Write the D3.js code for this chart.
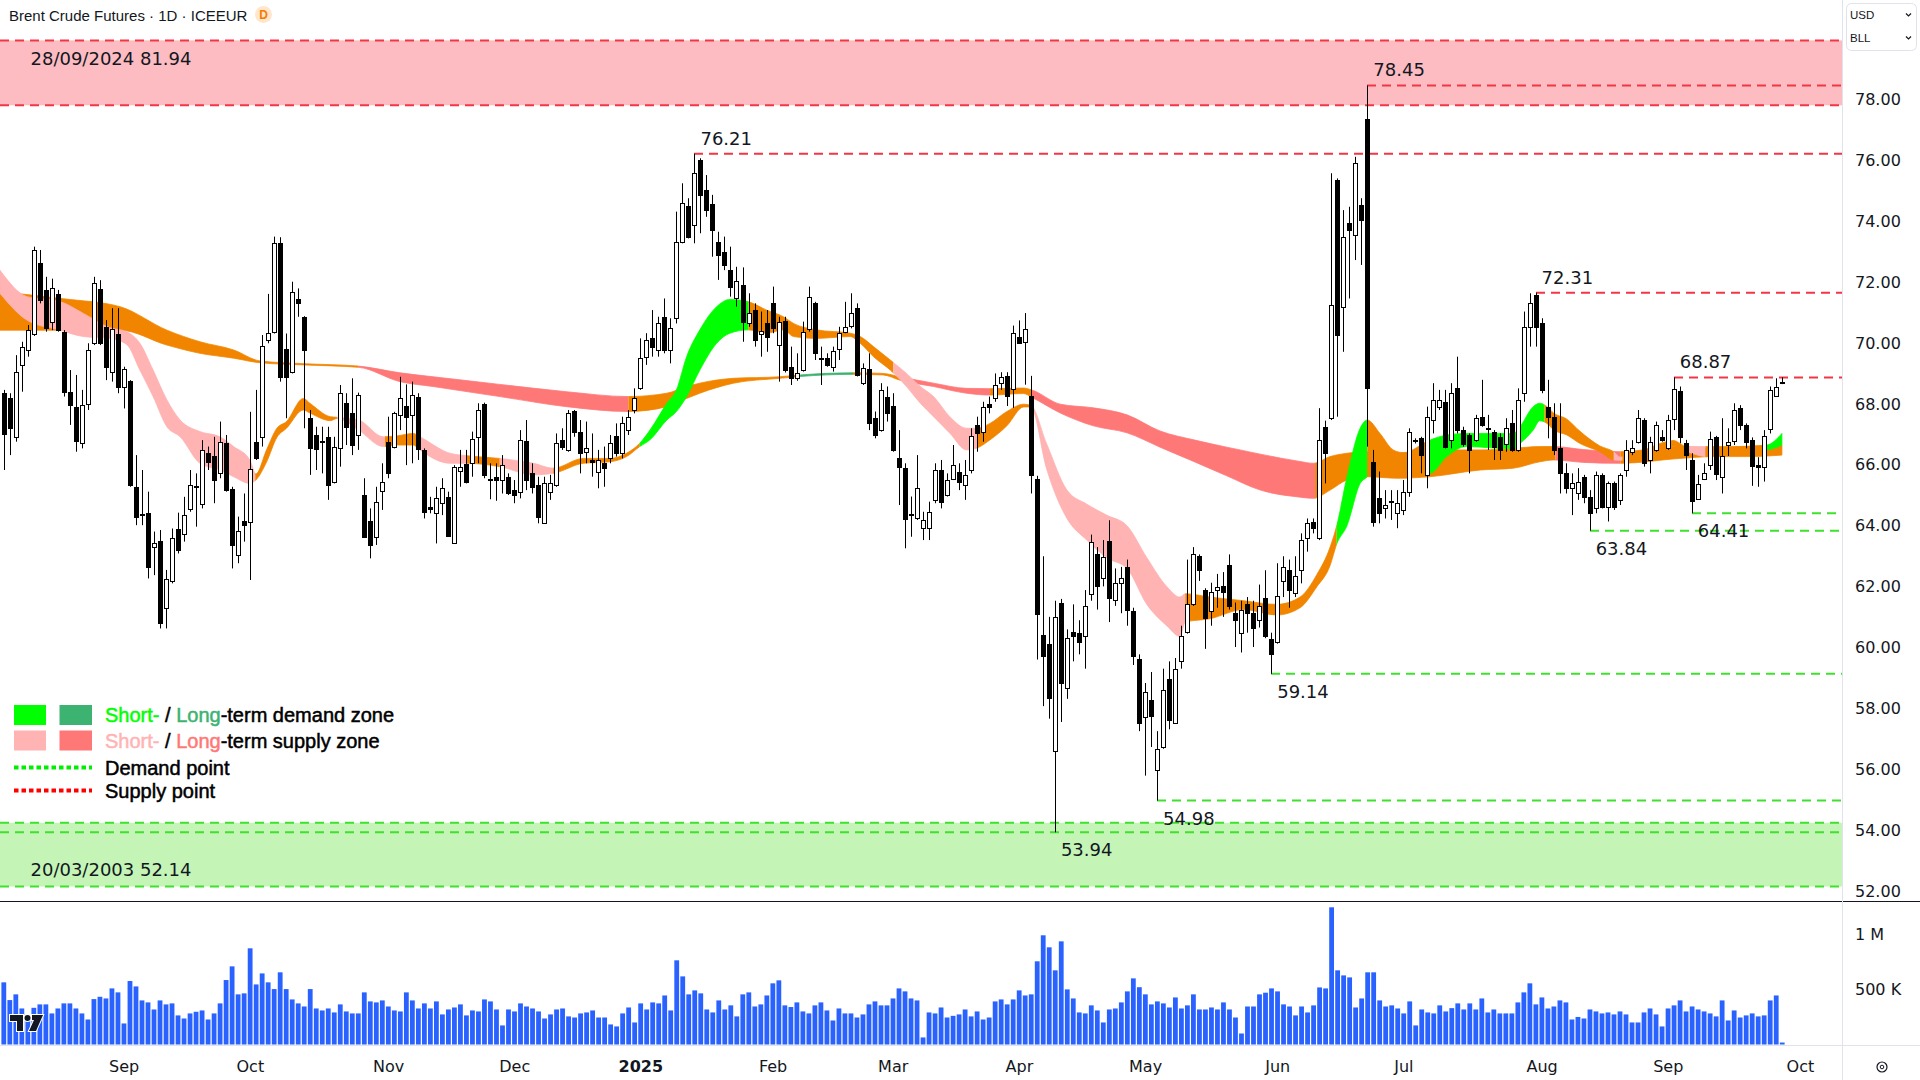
<!DOCTYPE html>
<html><head><meta charset="utf-8">
<script src="https://cdn.jsdelivr.net/npm/d3@7"></script>
<style>
html,body{margin:0;padding:0;background:#fff;}
svg{display:block;}
text{white-space:pre;}
</style></head><body>
<svg id="chart" width="1920" height="1080"></svg>
<script>
// ---------- categories ----------
const firstDay = "2024-08-05";
const lastAxisDay = "2025-10-31";
const closedDays = ["2024-12-25","2025-01-01","2025-04-18"];
const chartTitle = "Brent Crude Futures \u00b7 1D \u00b7 ICEEUR";
const priceTicks = [52,54,56,58,60,62,64,66,68,70,72,74,76,78];
const volumeTicks = [0.5, 1.0];
const volumeTickLabels = ["500 K", "1 M"];

// ---------- candles (price) ----------
const open = [
68.35,68.18,66.90,69.28,69.77,70.29,72.61,71.74,70.70,71.61,
70.37,68.40,67.89,66.71,68.00,69.99,71.76,70.53,69.06,70.29,
68.57,68.76,65.28,64.35,64.43,63.29,63.51,61.29,62.20,63.91,
63.73,64.54,65.28,64.71,66.38,66.30,65.72,66.73,65.20,63.04,
64.17,64.13,66.76,66.90,70.10,70.37,73.27,69.79,69.06,71.43,
70.84,67.53,66.98,66.76,66.90,65.45,66.54,68.02,67.69,66.98,
65.01,64.17,63.62,65.15,66.76,66.60,67.64,67.93,67.64,68.22,
66.49,64.63,64.43,64.74,64.95,63.45,65.81,66.03,66.05,66.92,
68.00,65.52,65.59,65.50,65.61,65.17,65.12,66.79,65.72,65.34,
64.08,65.12,65.34,66.82,66.49,67.77,67.09,66.43,66.16,65.78,
66.05,66.21,66.93,66.38,67.14,67.80,68.51,69.55,70.15,69.77,
70.86,69.77,70.81,73.32,74.49,73.87,76.00,75.02,74.56,73.32,
73.00,72.39,71.46,71.90,70.64,71.08,70.29,70.64,71.30,69.93,
70.73,69.22,68.84,69.11,70.45,71.32,69.50,69.49,69.20,69.79,
70.37,70.56,71.14,68.68,69.13,67.53,67.14,68.24,67.93,66.21,
65.89,64.35,64.24,63.92,63.92,64.85,65.83,65.01,65.55,65.78,
65.34,65.83,67.31,67.09,68.00,68.18,68.67,68.92,68.48,70.21,
70.04,68.25,65.53,60.43,60.13,56.62,61.45,58.67,60.51,60.49,
60.37,61.77,63.06,62.30,63.51,61.57,62.13,62.65,61.21,59.64,
57.73,58.28,55.97,56.74,58.96,57.53,59.55,60.51,61.42,63.00,
61.89,61.19,61.89,62.03,62.71,61.13,60.49,61.42,61.13,60.90,
61.63,60.28,60.19,62.19,62.54,61.80,62.55,63.59,64.14,63.59,
67.25,67.53,75.35,71.19,73.93,73.54,74.53,77.34,66.10,64.90,
64.57,64.79,64.41,64.52,65.12,66.81,66.87,65.67,67.47,67.91,
68.07,66.81,68.51,67.14,66.98,66.81,67.58,67.20,67.09,66.92,
66.70,67.36,66.49,68.35,70.53,71.57,70.64,67.91,67.58,66.54,
65.72,65.23,65.06,65.61,64.95,64.57,65.67,64.63,65.39,64.85,
65.83,66.43,66.76,67.47,66.16,66.49,66.92,66.54,67.49,68.43,
66.73,66.16,64.87,65.52,65.99,66.90,65.59,66.65,66.79,67.85,
67.31,66.82,65.99,65.92,67.17,68.26,68.73];
const high = [
68.46,68.35,69.60,70.04,70.59,73.16,73.05,72.17,72.11,71.74,
70.42,69.11,68.95,68.46,69.99,72.17,72.06,70.75,71.14,71.14,
69.22,68.78,66.32,65.83,65.12,63.81,63.86,62.55,63.91,64.43,
64.95,65.83,65.72,66.81,66.60,66.92,67.42,66.98,65.28,64.30,
65.06,67.74,68.46,70.26,71.61,73.49,73.47,70.31,72.01,71.79,
70.88,67.80,67.25,67.25,67.25,66.92,68.62,68.35,68.84,68.37,
65.56,64.57,65.28,66.05,67.58,67.74,68.89,68.64,68.73,68.35,
66.54,64.95,65.28,65.56,65.12,65.99,66.49,66.49,67.09,68.02,
68.04,66.05,66.05,66.32,65.72,65.50,67.14,67.47,66.05,65.61,
65.61,65.67,67.03,67.20,67.80,67.80,67.47,67.42,67.03,66.49,
66.60,66.98,67.36,67.58,67.80,68.51,70.15,70.32,71.08,70.86,
71.46,70.81,74.31,75.24,74.75,76.21,76.06,75.51,74.86,73.65,
73.49,73.16,72.50,72.48,71.63,71.30,71.03,71.08,71.85,70.86,
70.86,69.88,69.66,70.70,71.85,71.35,69.88,69.66,69.88,70.53,
71.35,71.63,71.30,69.33,69.66,67.75,68.68,68.57,68.35,67.14,
66.05,64.96,66.32,64.46,64.79,66.05,66.16,65.72,66.65,66.05,
66.16,67.20,67.58,68.07,68.24,69.00,69.04,69.04,70.57,70.74,
70.98,68.92,65.64,63.00,61.01,61.54,61.60,60.60,61.42,60.90,
61.89,63.71,63.30,63.53,64.18,62.60,62.65,62.89,61.31,59.78,
58.84,59.20,57.26,59.31,59.55,59.66,60.72,62.89,63.30,63.06,
61.95,62.13,62.42,62.48,63.06,61.48,61.54,61.66,61.54,62.07,
62.54,60.49,62.77,63.00,62.89,63.00,63.75,64.24,64.24,67.86,
67.45,75.57,75.40,74.36,74.47,76.11,74.75,78.45,66.49,65.78,
65.17,65.17,65.17,65.50,67.20,66.87,66.92,67.91,68.68,68.46,
68.46,68.68,69.55,67.25,67.03,67.64,68.79,67.64,67.14,67.03,
67.53,67.80,68.51,71.03,71.63,71.65,70.81,68.79,68.02,68.02,
66.05,65.72,65.89,65.67,65.17,65.78,65.72,65.45,65.45,65.72,
66.81,66.81,67.80,67.53,66.92,67.42,67.14,67.64,68.87,68.57,
66.82,66.38,65.67,66.05,67.09,66.95,67.53,67.20,68.02,67.96,
67.36,66.90,66.25,67.14,68.57,68.84,68.87];
const low = [
65.83,66.32,66.76,68.40,69.55,70.23,71.30,70.37,70.42,70.37,
68.24,67.31,66.43,66.54,67.80,69.93,69.93,68.78,68.73,68.35,
67.85,65.28,64.02,64.02,62.27,62.38,60.63,60.63,62.11,63.09,
63.48,64.46,63.97,64.57,65.83,64.74,65.56,65.12,62.60,62.77,
63.48,62.22,66.16,66.60,69.99,70.31,68.73,67.53,69.00,70.86,
67.20,65.67,65.83,65.72,64.85,65.39,65.94,66.65,66.32,66.49,
63.62,62.93,63.37,64.52,65.56,66.54,67.14,65.99,66.05,66.16,
64.24,64.41,63.42,64.35,63.66,63.42,65.28,65.39,65.61,66.05,
65.56,64.87,64.82,65.06,65.01,64.74,64.90,65.17,65.06,64.08,
64.08,64.85,65.28,66.49,66.43,66.92,65.72,66.05,65.61,65.23,
65.28,66.05,66.27,66.21,66.98,67.69,68.46,69.28,69.55,69.55,
69.66,69.33,70.64,73.27,73.43,73.27,73.60,74.14,72.83,72.07,
72.39,71.52,71.19,70.04,70.53,69.88,69.55,69.71,70.32,68.73,
69.03,68.62,68.76,69.06,70.37,69.44,68.62,69.22,69.06,69.44,
70.32,70.48,68.90,68.62,67.14,66.87,67.09,67.42,66.43,64.68,
63.26,63.64,64.19,63.53,63.53,64.74,64.57,64.96,65.50,65.17,
64.85,65.72,66.43,66.76,67.69,68.07,68.46,67.93,67.87,69.98,
68.63,65.06,59.61,58.08,57.67,53.94,57.56,58.32,59.55,59.78,
59.31,61.54,61.25,62.01,60.84,61.37,61.13,60.72,59.43,57.26,
55.80,56.74,54.98,56.68,57.32,57.50,59.31,60.46,61.37,62.19,
59.96,60.72,61.31,61.01,61.25,60.02,59.84,60.49,60.02,60.66,
60.31,59.14,60.13,61.66,61.31,61.66,62.11,63.15,63.75,63.53,
65.39,67.47,67.58,69.71,71.46,72.72,72.56,66.60,63.97,64.08,
64.24,64.19,63.92,64.35,64.95,66.70,65.72,65.23,67.03,67.80,
66.54,66.54,67.03,66.60,65.72,66.76,67.25,66.49,66.16,66.16,
66.43,66.43,66.43,68.07,69.88,69.88,68.35,66.87,66.32,65.06,
65.06,64.35,64.85,64.74,63.84,64.41,64.57,64.14,64.52,64.68,
65.61,66.32,66.70,65.94,65.72,66.43,66.76,66.49,67.14,66.71,
65.83,64.41,64.85,65.50,65.83,65.50,65.06,66.29,66.65,67.14,
66.54,65.31,65.28,65.45,67.03,68.24,68.65];
const close = [
67.01,67.20,69.06,69.88,70.42,73.05,71.41,70.48,71.79,70.42,
68.40,67.96,66.79,67.96,69.77,71.96,69.99,69.20,70.45,68.54,
69.13,65.34,64.30,64.37,62.66,63.45,60.80,62.24,63.59,63.20,
64.35,65.34,65.30,66.49,66.10,65.50,66.76,65.17,63.37,63.84,
64.02,65.85,66.21,69.90,70.34,73.27,68.89,68.87,71.68,71.32,
69.77,66.54,66.51,66.78,65.34,66.60,68.35,67.25,66.65,68.29,
63.64,63.37,64.79,65.45,65.74,67.71,68.18,67.56,68.29,66.51,
64.46,64.54,64.90,65.23,63.66,65.94,65.94,65.45,66.84,67.80,
65.67,65.50,65.50,65.99,65.06,65.01,66.82,65.50,65.28,64.30,
65.39,65.39,66.71,66.60,67.69,67.09,66.38,66.54,66.10,66.16,
65.88,66.71,66.38,67.36,67.58,68.18,69.50,70.10,69.86,70.64,
69.77,70.48,73.32,74.58,73.49,75.59,74.86,74.36,73.71,72.89,
72.56,71.85,72.04,70.70,70.99,70.10,70.40,70.18,70.48,70.70,
69.11,68.84,69.00,70.37,71.52,69.68,69.52,69.28,69.75,70.34,
70.53,70.99,68.95,69.17,67.38,66.98,68.46,67.71,66.49,65.94,
64.21,64.37,65.23,64.19,64.46,65.83,64.79,65.50,65.99,65.45,
65.67,66.93,67.03,67.91,67.91,68.62,68.87,68.25,70.33,70.00,
70.47,65.67,61.10,59.72,58.35,61.01,58.84,60.31,60.37,60.19,
61.36,63.47,62.01,62.97,61.63,62.13,62.27,61.25,59.72,57.53,
58.55,57.77,56.68,58.61,57.61,59.31,60.39,61.42,63.06,62.54,
60.98,61.83,61.98,61.83,61.36,60.90,61.25,61.13,60.63,61.36,
60.37,59.78,61.68,62.65,61.89,62.36,63.53,64.08,63.92,66.81,
66.38,71.25,70.26,73.49,73.71,75.90,74.04,68.51,64.14,64.41,
64.68,64.81,64.74,65.12,67.09,66.83,66.32,67.58,68.13,68.13,
66.60,68.35,67.14,66.70,66.49,67.53,67.31,67.22,66.60,66.49,
67.20,66.49,68.13,70.53,71.30,70.53,68.46,67.58,66.49,65.72,
65.23,65.39,65.45,64.95,64.41,65.67,64.63,65.39,64.63,65.67,
66.49,66.54,67.53,66.05,66.76,67.31,66.81,67.47,68.48,66.92,
66.32,64.82,65.37,65.72,66.84,65.70,66.29,66.76,67.80,67.31,
66.76,65.96,65.92,66.95,68.46,68.57,68.68];

// ---------- volume (millions) ----------
const volume = [
0.564,0.403,0.455,0.327,0.252,0.333,0.364,0.364,0.282,0.327,
0.373,0.373,0.327,0.282,0.227,0.412,0.433,0.418,0.509,0.473,
0.191,0.576,0.527,0.400,0.382,0.318,0.400,0.364,0.373,0.264,
0.236,0.282,0.297,0.309,0.227,0.282,0.373,0.585,0.709,0.455,
0.464,0.873,0.545,0.645,0.564,0.503,0.655,0.503,0.409,0.373,
0.345,0.503,0.327,0.309,0.327,0.291,0.364,0.300,0.282,0.282,
0.473,0.391,0.382,0.400,0.345,0.309,0.300,0.473,0.400,0.327,
0.373,0.327,0.391,0.273,0.318,0.336,0.364,0.264,0.309,0.300,
0.409,0.391,0.318,0.173,0.318,0.300,0.373,0.345,0.327,0.300,
0.236,0.273,0.318,0.327,0.255,0.245,0.282,0.291,0.309,0.245,
0.245,0.182,0.164,0.282,0.336,0.200,0.373,0.318,0.382,0.373,
0.445,0.309,0.764,0.618,0.455,0.491,
0.464,0.318,0.291,0.400,0.318,0.355,0.255,0.455,0.473,0.345,
0.364,0.445,0.555,0.582,0.355,0.340,0.382,0.300,0.282,0.355,
0.382,0.309,0.218,0.327,0.282,0.282,0.245,0.273,0.364,0.391,
0.355,0.355,0.418,0.509,0.482,0.418,0.400,0.064,0.291,0.282,
0.336,0.245,0.260,0.273,0.318,0.255,0.300,0.227,0.245,0.391,
0.409,0.364,0.409,0.491,0.445,0.455,0.755,0.991,0.882,0.673,
0.936,0.500,0.418,0.291,0.282,0.355,0.309,0.200,0.318,0.327,
0.382,0.482,0.600,0.520,0.455,0.364,0.391,0.373,0.336,0.427,
0.327,0.355,0.455,0.318,0.318,0.336,0.318,0.382,0.318,0.245,
0.100,0.345,0.345,0.455,0.470,0.509,0.482,0.364,0.345,0.264,
0.345,0.291,0.355,0.518,0.509,1.245,0.673,0.627,0.609,0.336,
0.418,0.655,0.655,0.400,0.345,0.355,0.327,0.282,0.391,0.173,
0.318,0.291,0.282,0.355,0.300,0.330,0.373,0.318,0.373,0.318,
0.418,0.291,0.318,0.282,0.282,0.282,0.382,0.473,0.555,0.364,
0.427,0.327,0.345,0.400,0.382,0.227,0.250,0.236,0.318,0.300,
0.282,0.291,0.273,0.300,0.273,0.200,0.200,0.291,0.327,0.273,
0.164,0.327,0.355,0.400,0.300,0.345,0.318,0.300,0.282,0.255,
0.400,0.218,0.309,0.245,0.264,0.282,0.255,0.264,0.400,0.445,0.018];

// ---------- ribbons: [barIndex, edgeA, edgeB] ----------
const shortRibbon = [
[-0.6,72.39,71.63],[3.9,71.52,70.75],[9.4,71.36,70.42],[13.3,70.97,70.21],[17.7,70.50,70.15],
[20.5,70.37,69.95],[22.7,69.99,69.11],[24.9,69.11,68.24],[27.2,68.13,67.25],[29.4,67.47,66.92],
[32.7,67.09,66.05],[36.0,66.92,65.83],[38.3,66.60,65.61],[41.0,66.16,65.39],[42.0,65.70,65.50],
[43.8,66.50,66.10],[45.5,67.20,66.90],[47.1,67.42,67.20],[49.9,68.18,67.80],[51.0,68.02,67.70],
[54.4,67.58,67.45],[55.5,67.56,67.52],[59.1,67.47,67.14],[63.2,66.92,66.60],[65.5,66.95,66.65],
[68.2,67.03,66.65],[69.3,66.92,66.49],[74.3,66.38,66.05],[77.1,66.30,66.05],[82.6,66.21,65.94],
[88.2,66.05,65.67],[91.5,65.89,65.72],[96.5,66.21,66.05],[100.9,66.21,66.10],[103.7,66.38,66.27],
[105.9,66.71,66.60],[107.6,67.14,66.82],[110.4,68.02,67.47],[112.0,68.46,67.75],[113.7,69.55,68.24],
[115.9,70.43,69.11],[118.7,71.19,69.99],[120.9,71.43,70.32],[124.0,71.35,70.43],[127.0,71.08,70.32],
[129.8,70.86,70.43],[131.5,70.64,70.21],[135.3,70.43,70.15],[140.9,70.32,70.21],[142.6,70.21,69.99],
[144.8,69.88,69.55],[147.6,69.44,69.11],[150.3,69.00,68.57],[152.6,68.57,68.02],[154.8,68.24,67.58],
[157.5,67.58,67.04],[160.3,67.20,66.49],[162.0,67.20,66.55],[164.2,67.36,66.82],[167.0,67.75,67.28],
[169.8,67.99,67.90],[171.0,67.95,67.90],[173.6,66.70,65.88],[177.0,65.17,64.24],[180.3,64.71,63.53],
[183.6,64.35,62.95],[187.0,64.00,62.60],[190.3,62.95,61.42],[193.6,62.01,60.72],[195.8,61.66,60.37],
[196.7,61.77,60.84],[200.8,61.66,60.95],[206.4,61.54,61.25],[211.9,61.42,61.07],[215.8,61.66,61.31],
[218.6,62.40,62.00],[220.8,63.30,62.70],[221.9,64.00,63.40],[223.6,65.60,64.00],[225.8,67.20,65.39],
[227.0,67.47,65.61],[229.1,67.03,66.16],[231.3,66.49,66.27],[233.0,66.40,66.20],[237.4,66.81,65.72],
[240.2,66.98,66.27],[243.5,67.03,66.60],[251.3,67.03,66.52],[252.4,67.25,66.70],[254.6,67.91,67.14],
[255.7,68.02,67.45],[256.9,67.91,67.36],[258.0,67.70,67.15],[260.2,67.50,66.98],[262.4,67.10,66.70],
[265.7,66.62,66.43],[268.0,66.43,66.16],[269.1,66.25,66.15],[276.8,66.76,66.54],[277.9,66.80,66.60],
[280.2,66.60,66.43],[283.5,66.60,66.27],[287.9,66.60,66.49],[293.5,66.65,66.50],[296.0,67.03,66.65]];
const longRibbon = [
[-0.6,71.68,70.42],[10,71.45,70.42],[19.4,71.19,70.42],[27.2,70.42,69.93],[32.7,70.04,69.66],
[38.3,69.77,69.50],[42.7,69.41,69.35],[50,69.32,69.28],[59.1,69.24,69.20],[66.0,69.02,68.73],
[71.5,68.89,68.57],[82.6,68.64,68.24],[93.7,68.40,67.91],[104.0,68.24,67.75],[110.4,68.35,67.91],
[113.7,68.57,68.18],[115.9,68.68,68.35],[121.5,68.84,68.68],[129.2,68.89,68.84],[132.6,68.95,68.90],
[141.4,69.02,68.97],[146.4,69.00,68.95],[149.2,68.89,68.78],[154.8,68.68,68.57],[160.3,68.51,68.35],
[164.2,68.50,68.29],[169.8,68.52,68.34],[171.1,68.46,68.22],[175.9,67.99,67.70],[181.4,67.87,67.28],
[187.0,67.64,67.05],[192.5,67.11,66.58],[198.1,66.82,66.11],[203.6,66.58,65.64],[209.2,66.35,65.17],
[215.8,66.11,64.94],[218.0,66.05,64.90],[220.8,66.27,65.17],[223.6,66.38,65.50],[227.0,66.43,65.61],
[231.9,66.38,65.56],[237.4,66.49,65.61],[245.8,66.49,65.83],[251.3,66.54,65.89],[255.7,66.60,66.10],
[258.0,66.60,66.16],[263,66.50,66.08],[269.1,66.43,66.05],[279.0,66.60,66.21],[284.6,66.54,66.27],
[290.1,66.60,66.27],[296.0,66.65,66.32]];
// colour state segments: [fromBar, toBar, state]
const shortStates = [
[-1,41.9,"sp"],[41.9,55.5,"or"],[55.5,63.5,"sp"],[63.5,68.8,"or"],[68.8,77.1,"sp"],[77.1,82.6,"or"],
[82.6,91.5,"sp"],[91.5,105.9,"or"],[105.9,124.0,"sd"],[124.0,148.1,"or"],[148.1,162.0,"sp"],
[162.0,171.0,"or"],[171.0,196.7,"sp"],[196.7,221.9,"or"],[221.9,227.0,"sd"],[227.0,237.0,"or"],
[237.0,256.5,"sd"],[256.5,268.0,"or"],[268.0,269.5,"sp"],[269.5,280.2,"or"],[280.2,283.3,"sp"],
[283.3,293.5,"or"],[293.5,297,"sd"]];
const longStates = [
[-1,59.1,"or"],[59.1,104.0,"lp"],[104.0,132.6,"or"],[132.6,141.4,"ld"],[141.4,149.2,"or"],
[149.2,164.2,"lp"],[164.2,171.1,"or"],[171.1,218.3,"lp"],[218.3,258.3,"or"],[258.3,269.1,"lp"],[269.1,297,"or"]];

// ---------- levels ----------
const supplyZone = {top:79.93, bottom:77.80, label:"28/09/2024 81.94"};
const demandZone = {top:54.25, bottom:52.16, label:"20/03/2003 52.14"};
const supplyPoints = [[115,76.21,"76.21"],[227,78.45,"78.45"],[255,71.65,"72.31"],[278,68.87,"68.87"]];
const demandPoints = [[175,53.94,"53.94"],[192,54.98,"54.98"],[211,59.14,"59.14"],[264,63.84,"63.84"],[281,64.41,"64.41"]];

// ---------- drawing ----------
const stateColor = {sd:"#00ff00", ld:"#3cb371", sp:"#ffb3b3", lp:"#ff7878", or:"#f28500"};
const RED = "#f23645", GREEN = "#3fe02e";
const paneRight = 1842, priceBottom = 901;
const svg = d3.select("#chart");
const defs = svg.append("defs");

// trading day calendar
const days = [];
{
  let d = new Date(firstDay + "T00:00:00Z");
  const end = new Date(lastAxisDay + "T00:00:00Z");
  while (d <= end) {
    const wd = d.getUTCDay(), s = d.toISOString().slice(0,10);
    if (wd !== 0 && wd !== 6 && !closedDays.includes(s)) days.push(s);
    d = new Date(d.getTime() + 864e5);
  }
}
const N = close.length;
const x = d3.scaleLinear().domain([-0.583, 306.0]).range([0, paneRight]);
const y = d3.scaleLinear().domain([52, 78]).range([891.4, 99.2]);
const vy = d3.scaleLinear().domain([0, 1]).range([1044.5, 934.3]);

defs.append("clipPath").attr("id","pricePane").append("rect")
  .attr("x",0).attr("y",0).attr("width",paneRight).attr("height",priceBottom);

const price = svg.append("g").attr("clip-path","url(#pricePane)");

// zones
[[supplyZone,"#fdbcc1",RED],[demandZone,"#c4f5b6",GREEN]].forEach(([z,fill,stroke])=>{
  price.append("rect").attr("x",0).attr("width",paneRight)
    .attr("y",y(z.top)).attr("height",y(z.bottom)-y(z.top)).attr("fill",fill);
  [z.top,z.bottom].forEach(v=>{
    price.append("line").attr("x1",0).attr("x2",paneRight).attr("y1",y(v)).attr("y2",y(v))
      .attr("stroke",stroke).attr("stroke-width",2).attr("stroke-dasharray","9,6");
  });
});

// ribbons
function drawRibbon(data, states, key){
  const area = d3.area().x(d=>x(d[0])).y0(d=>y(d[1])).y1(d=>y(d[2])).curve(d3.curveMonotoneX);
  const pathD = area(data);
  states.forEach((s,k)=>{
    const id = key + k;
    const x0 = x(s[0]), x1 = x(s[1]);
    defs.append("clipPath").attr("id",id).append("rect")
      .attr("x",x0).attr("y",0).attr("width",Math.max(0,x1-x0)).attr("height",priceBottom);
    price.append("path").attr("d",pathD).attr("fill",stateColor[s[2]])
      .attr("stroke",stateColor[s[2]]).attr("stroke-width",0.8)
      .attr("clip-path",`url(#${id})`);
  });
}
drawRibbon(longRibbon, longStates, "lt");
drawRibbon(shortRibbon, shortStates, "st");

// supply / demand point lines
function pointLine(p, color, full){
  const xs = full ? 0 : Math.round(x(p[0]));
  price.append("line").attr("x1",xs).attr("x2",paneRight).attr("y1",y(p[1])).attr("y2",y(p[1]))
    .attr("stroke",color).attr("stroke-width",2).attr("stroke-dasharray","9,6");
}
supplyPoints.forEach(p=>pointLine(p,RED,false));
demandPoints.forEach((p,k)=>pointLine(p,GREEN,k===0));

// candles
const cg = price.append("g");
for (let i=0;i<N;i++){
  const cx = Math.round(x(i));
  cg.append("line").attr("x1",cx+0.5).attr("x2",cx+0.5)
    .attr("y1",y(high[i])).attr("y2",y(low[i])).attr("stroke","#000").attr("stroke-width",1);
  const up = close[i] >= open[i];
  const t = Math.round(y(Math.max(open[i],close[i]))), b = Math.round(y(Math.min(open[i],close[i])));
  cg.append("rect").attr("x",cx-1.5).attr("y",t+0.5).attr("width",4).attr("height",Math.max(1,b-t))
    .attr("fill", up ? "#fff" : "#000").attr("stroke","#000").attr("stroke-width",1);
}

// point labels
const lblFont = "'DejaVu Sans', Verdana, sans-serif";
function pointLabel(p, dy){
  price.append("text").attr("x",x(p[0])+6).attr("y",y(p[1])+dy)
    .attr("dominant-baseline","central").attr("font-family",lblFont).attr("font-size",18)
    .attr("fill","#131722").text(p[2]);
}
supplyPoints.forEach(p=>pointLabel(p,-15.5));
demandPoints.forEach(p=>pointLabel(p,17.5));
[[supplyZone,58.8],[demandZone,869.4]].forEach(([z,yy])=>{
  price.append("text").attr("x",30.5).attr("y",yy).attr("dominant-baseline","central")
    .attr("font-family",lblFont).attr("font-size",18).attr("fill","#131722").text(z.label);
});

// legend
const legRows = [
  {sw:["sd","ld"], parts:[["Short-",stateColor.sd],[" / ","#000"],["Long",stateColor.ld],["-term demand zone","#000"]], cy:715},
  {sw:["sp","lp"], parts:[["Short-",stateColor.sp],[" / ","#000"],["Long",stateColor.lp],["-term supply zone","#000"]], cy:740.5},
  {dot:"#00ee00", parts:[["Demand point","#000"]], cy:767.5},
  {dot:"#ff0000", parts:[["Supply point","#000"]], cy:790.5}];
const leg = svg.append("g");
legRows.forEach(r=>{
  if (r.sw){
    leg.append("rect").attr("x",14).attr("y",r.cy-10).attr("width",32).attr("height",20).attr("fill",stateColor[r.sw[0]]);
    leg.append("rect").attr("x",59.5).attr("y",r.cy-10).attr("width",32.5).attr("height",20).attr("fill",stateColor[r.sw[1]]);
  } else {
    leg.append("line").attr("x1",14).attr("x2",92).attr("y1",r.cy).attr("y2",r.cy)
      .attr("stroke",r.dot).attr("stroke-width",4).attr("stroke-dasharray","4.5,3");
  }
  const t = leg.append("text").attr("x",105).attr("y",r.cy).attr("dominant-baseline","central")
    .attr("font-family","'Liberation Sans', Arial, sans-serif").attr("font-size",20);
  r.parts.forEach(p=>t.append("tspan").attr("fill",p[1]).attr("stroke",p[1]).attr("stroke-width",0.5).text(p[0]));
});

// volume
const vg = svg.append("g");
for (let i=0;i<N;i++){
  vg.append("rect").attr("x",x(i)-2.1).attr("width",4.8)
    .attr("y",vy(volume[i])).attr("height",vy(0)-vy(volume[i])).attr("fill","#2962ff");
}

// separators
svg.append("line").attr("x1",0).attr("x2",1920).attr("y1",901.5).attr("y2",901.5).attr("stroke","#131722").attr("stroke-width",1);
svg.append("line").attr("x1",0).attr("x2",1920).attr("y1",1045.5).attr("y2",1045.5).attr("stroke","#e0e3eb").attr("stroke-width",1);
svg.append("line").attr("x1",paneRight+0.5).attr("x2",paneRight+0.5).attr("y1",0).attr("y2",1080).attr("stroke","#e0e3eb").attr("stroke-width",1);

// axes
const axFont = "'DejaVu Sans', Verdana, sans-serif";
const yAxis = svg.append("g").attr("transform","translate(1855,0)")
  .call(d3.axisRight(y).tickValues(priceTicks).tickFormat(d3.format(".2f")).tickSize(0).tickPadding(0));
const vAxis = svg.append("g").attr("transform","translate(1855,0)")
  .call(d3.axisRight(vy).tickValues(volumeTicks).tickFormat((d,k)=>volumeTickLabels[k]).tickSize(0).tickPadding(0));
const monthIdx = [];
for (let i=1;i<days.length;i++){ if (days[i].slice(5,7)!==days[i-1].slice(5,7)) monthIdx.push(i); }
const fmtM = d3.utcFormat("%b");
const monthTicks = monthIdx.filter(i=>x(i) < paneRight-15);
const xAxis = svg.append("g").attr("transform","translate(0,1061)")
  .call(d3.axisBottom(x).tickValues(monthTicks).tickSize(0).tickPadding(0)
    .tickFormat(i=>{ const d=new Date(days[i]+"T00:00:00Z"); return d.getUTCMonth()===0 ? String(d.getUTCFullYear()) : fmtM(d); }));
[yAxis,vAxis,xAxis].forEach(g=>{
  g.select(".domain").remove();
  g.selectAll("text").attr("font-family",axFont).attr("font-size",16).attr("fill","#131722");
});
xAxis.selectAll("text").attr("font-weight",i=>days[i].slice(5,7)==="01"?"bold":"normal");

// header
svg.append("text").attr("x",9).attr("y",15).attr("dominant-baseline","central")
  .attr("font-family","'Liberation Sans', Arial, sans-serif").attr("font-size",15).attr("fill","#131722").text(chartTitle);
svg.append("circle").attr("cx",263.5).attr("cy",14.5).attr("r",8.5).attr("fill","#ffe6cc");
svg.append("text").attr("x",263.5).attr("y",15).attr("text-anchor","middle").attr("dominant-baseline","central")
  .attr("font-family","'Liberation Sans', Arial, sans-serif").attr("font-size",12).attr("font-weight","bold").attr("fill","#f57c00").text("D");

// currency/unit box
svg.append("rect").attr("x",1846.5).attr("y",3.5).attr("width",70).attr("height",47).attr("rx",5)
  .attr("fill","#fff").attr("stroke","#e0e3eb");
[["USD",15],["BLL",38]].forEach(([t,cy])=>{
  svg.append("text").attr("x",1850).attr("y",cy).attr("dominant-baseline","central")
    .attr("font-family","'Liberation Sans', Arial, sans-serif").attr("font-size",11.5).attr("fill","#131722").text(t);
  svg.append("path").attr("d",`M1906,${cy-1.5} l2.5,2.5 l2.5,-2.5`).attr("fill","none").attr("stroke","#131722").attr("stroke-width",1.2);
});

// TradingView logo
const logo = svg.append("g");
logo.append("path").attr("d","M10,1015 h13 v16 h-6 v-10 h-7 z").attr("fill","#131722").attr("stroke","#fff").attr("stroke-width",2).attr("paint-order","stroke");
logo.append("circle").attr("cx",27.5).attr("cy",1018).attr("r",3).attr("fill","#131722").attr("stroke","#fff").attr("stroke-width",2).attr("paint-order","stroke");
logo.append("path").attr("d","M32,1015 h11 l-7,16 h-7 l5,-11 h-2 z").attr("fill","#131722").attr("stroke","#fff").attr("stroke-width",2).attr("paint-order","stroke");

// settings icon
svg.append("circle").attr("cx",1882).attr("cy",1067).attr("r",5).attr("fill","none").attr("stroke","#131722").attr("stroke-width",1.2);
svg.append("circle").attr("cx",1882).attr("cy",1067).attr("r",1.8).attr("fill","none").attr("stroke","#131722").attr("stroke-width",1);
</script></body></html>
